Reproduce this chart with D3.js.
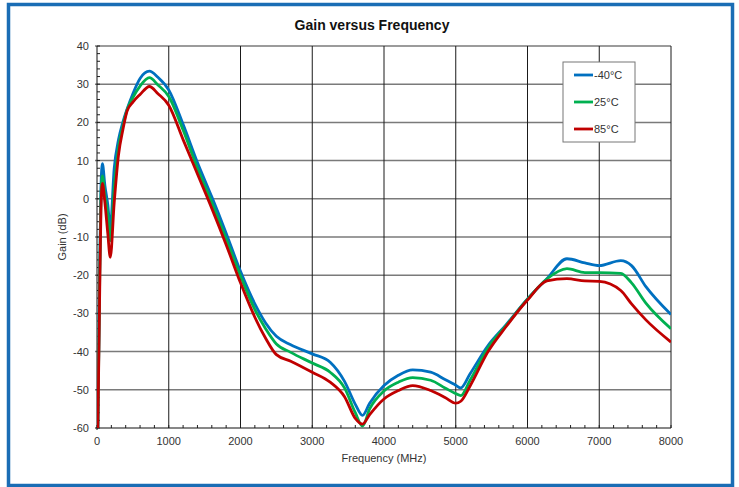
<!DOCTYPE html>
<html>
<head>
<meta charset="utf-8">
<script src="https://cdn.jsdelivr.net/npm/d3@7"></script>
<style>
  html, body { margin: 0; padding: 0; background: #fff; }
  svg { display: block; font-family: "Liberation Sans", Arial, sans-serif; }
</style>
</head>
<body>
<svg id="chart" width="739" height="487"></svg>
<script>
// Frequency sweep points (MHz) shared by all three temperature traces
const freqMHz = [12, 35, 55, 75, 110, 150, 185, 240, 300, 360, 420, 500, 600, 730, 850, 1000,
  1200, 1400, 1600, 1800, 2000, 2200, 2350, 2500, 2700, 3000, 3250, 3450, 3600, 3700, 3800,
  4000, 4200, 4400, 4650, 4850, 5000, 5070, 5200, 5450, 5700, 6000, 6270, 6550, 6800, 7000,
  7300, 7450, 7650, 8000];

// Gain (dB) at each frequency
const gainMinus40 = [-60, -22, 3, 9.2, 3.5, -1.5, -7.5, 8, 15.5, 20, 23.5, 27.5, 31.5, 33.4, 31.8, 28.5,
  19.5, 9.5, 0.5, -9, -19, -27.5, -32.5, -36, -38.2, -40.6, -42.8, -47.8, -53.8, -56.7, -53.5,
  -48.9, -46.2, -44.8, -45.4, -47.3, -48.8, -49.5, -45.8, -38.4, -33, -26.2, -20.9, -15.7, -16.8, -17.5,
  -16.2, -17.5, -23, -30.3];
const gain25 = [-60, -25, 0, 6, 1, -4, -11, 3, 13.5, 19, 23.3, 26.5, 29.5, 31.7, 29.8, 26.8,
  18, 8, -1, -10.5, -20.2, -29, -34, -38, -40.2, -43, -45.4, -49.5, -56, -59.5, -55,
  -50.3, -48, -46.8, -47.5, -49.5, -51, -51.5, -47.5, -39, -33.2, -26.3, -21, -18.3, -19.3, -19.3,
  -19.5, -22, -27.3, -34];
const gain85 = [-60, -28, -3, 4, -1, -9, -15.3, -1, 11.5, 18, 23, 25.3, 27.3, 29.4, 27.5, 24.5,
  15.5, 6.5, -2.5, -12, -22, -31, -36.5, -40.8, -42.5, -45.4, -48, -51.8, -57.5, -59, -56.5,
  -52.4, -50.2, -48.9, -50.2, -52, -53.5, -53, -49, -40, -33.5, -26.5, -21.5, -20.9, -21.5, -21.6,
  -24, -27.5, -31.7, -37.5];

const seriesNames = ["-40°C", "25°C", "85°C"];
const seriesColors = ["#0070C0", "#00B050", "#C00000"];
const seriesValues = [gainMinus40, gain25, gain85];

const xTicks = [0, 1000, 2000, 3000, 4000, 5000, 6000, 7000, 8000];
const yTicks = [40, 30, 20, 10, 0, -10, -20, -30, -40, -50, -60];

const svg = d3.select("#chart");

// Outer frame
svg.append("rect")
  .attr("x", 8.5).attr("y", 4.5).attr("width", 724).attr("height", 481)
  .attr("fill", "#fff").attr("stroke", "#1a6db5").attr("stroke-width", 3.5);

const plot = { left: 97, right: 671, top: 46, bottom: 428 };

const x = d3.scaleLinear().domain([0, 8000]).range([plot.left, plot.right]);
const y = d3.scaleLinear().domain([-60, 40]).range([plot.bottom, plot.top]);

// Title
svg.append("text")
  .attr("x", 372).attr("y", 30)
  .attr("text-anchor", "middle")
  .attr("font-size", 14).attr("font-weight", "bold").attr("fill", "#111")
  .text("Gain versus Frequency");

// Horizontal grid
svg.append("g")
  .selectAll("line").data(yTicks.filter(d => d > -60))
  .join("line")
  .attr("x1", plot.left - 2).attr("x2", plot.right)
  .attr("y1", d => y(d)).attr("y2", d => y(d))
  .attr("stroke", "#7a7a7a").attr("stroke-width", 1.5);

// Vertical grid
svg.append("g")
  .selectAll("line").data(xTicks.filter(d => d > 0))
  .join("line")
  .attr("x1", d => x(d)).attr("x2", d => x(d))
  .attr("y1", plot.top).attr("y2", plot.bottom)
  .attr("stroke", "#1a1a1a").attr("stroke-width", 1);

// Minor ticks (inside)
svg.append("g")
  .selectAll("line").data(d3.range(-60, 40.1, 2))
  .join("line")
  .attr("x1", plot.left).attr("x2", plot.left + 3)
  .attr("y1", d => y(d)).attr("y2", d => y(d))
  .attr("stroke", "#222").attr("stroke-width", 1);
svg.append("g")
  .selectAll("line").data(d3.range(0, 8001, 200))
  .join("line")
  .attr("x1", d => x(d)).attr("x2", d => x(d))
  .attr("y1", plot.bottom).attr("y2", plot.bottom - 3)
  .attr("stroke", "#222").attr("stroke-width", 1);

// Axes lines
svg.append("line")
  .attr("x1", plot.left).attr("x2", plot.left)
  .attr("y1", plot.top).attr("y2", plot.bottom + 2)
  .attr("stroke", "#111").attr("stroke-width", 1);
svg.append("line")
  .attr("x1", plot.left - 2).attr("x2", plot.right)
  .attr("y1", plot.bottom).attr("y2", plot.bottom)
  .attr("stroke", "#111").attr("stroke-width", 1.2);

// Tick labels
svg.append("g")
  .selectAll("text").data(yTicks)
  .join("text")
  .attr("x", 89).attr("y", d => y(d) + 4)
  .attr("text-anchor", "end")
  .attr("font-size", 11).attr("fill", "#333")
  .text(d => d);
svg.append("g")
  .selectAll("text").data(xTicks)
  .join("text")
  .attr("x", d => x(d)).attr("y", 445)
  .attr("text-anchor", "middle")
  .attr("font-size", 11).attr("fill", "#333")
  .text(d => d);

// Axis titles
svg.append("text")
  .attr("x", (plot.left + plot.right) / 2).attr("y", 462)
  .attr("text-anchor", "middle")
  .attr("font-size", 11).attr("fill", "#333")
  .text("Frequency (MHz)");
svg.append("text")
  .attr("transform", `translate(66,${(plot.top + plot.bottom) / 2}) rotate(-90)`)
  .attr("text-anchor", "middle")
  .attr("font-size", 11).attr("fill", "#333")
  .text("Gain (dB)");

// Traces
svg.append("clipPath").attr("id", "plotClip")
  .append("rect")
  .attr("x", plot.left).attr("y", plot.top - 2)
  .attr("width", plot.right - plot.left).attr("height", plot.bottom - plot.top + 2);

const line = d3.line()
  .x(d => x(d[0])).y(d => y(d[1]))
  .curve(d3.curveMonotoneX);

svg.append("g").attr("clip-path", "url(#plotClip)")
  .selectAll("path").data(seriesValues)
  .join("path")
  .attr("d", vals => line(freqMHz.map((f, i) => [f, vals[i]])))
  .attr("fill", "none")
  .attr("stroke", (d, i) => seriesColors[i])
  .attr("stroke-width", 2.8)
  .attr("stroke-linejoin", "round");

// Legend
const legend = svg.append("g");
legend.append("rect")
  .attr("x", 563).attr("y", 62).attr("width", 72).attr("height", 80)
  .attr("fill", "#fff").attr("stroke", "#777").attr("stroke-width", 1);
seriesNames.forEach((name, i) => {
  const ly = 75 + i * 27;
  legend.append("line")
    .attr("x1", 574).attr("x2", 593).attr("y1", ly).attr("y2", ly)
    .attr("stroke", seriesColors[i]).attr("stroke-width", 2.8);
  legend.append("text")
    .attr("x", 594).attr("y", ly + 4)
    .attr("font-size", 11).attr("fill", "#333")
    .text(name);
});
</script>
</body>
</html>
